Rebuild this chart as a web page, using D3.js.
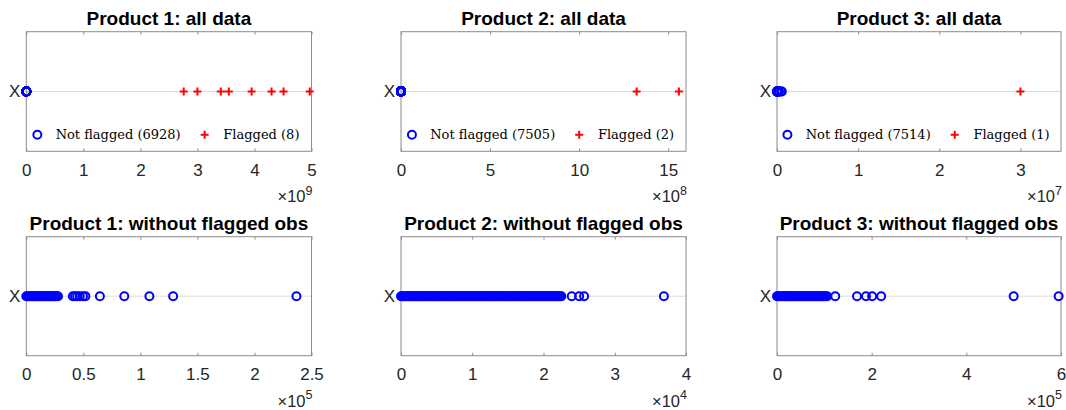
<!DOCTYPE html>
<html>
<head>
<meta charset="utf-8">
<script src="https://cdn.jsdelivr.net/npm/d3@7"></script>
<style>
  html, body { margin: 0; padding: 0; background: #fff; }
  svg { display: block; }
</style>
</head>
<body>
<svg id="chart" width="1066" height="410"></svg>
<script>
// ---- data ----
const productNames = ["Product 1", "Product 2", "Product 3"];

// observations that were not flagged (same values feed both rows)
const notFlagged1 = [0, 1050, 2100, 3150, 4300, 5350, 6400, 7450, 8500, 9600, 10700, 11750, 12800, 13850,
  14900, 16000, 17100, 18150, 19200, 20250, 21300, 22400, 23500, 24550, 25600, 26700, 27800,
  40800, 42700, 44600, 46900, 49700, 51800, 64500, 85900, 107900, 128700, 236800];
const notFlagged2 = [0, 150, 310, 480, 640, 810, 990, 1150, 1320, 1500, 1680, 1840, 2010, 2180, 2350, 2520,
  2700, 2870, 3040, 3210, 3380, 3550, 3720, 3890, 4060, 4230, 4410, 4580, 4750, 4920, 5090, 5260, 5430,
  5600, 5780, 5950, 6120, 6290, 6460, 6630, 6800, 6970, 7150, 7320, 7490, 7660, 7830, 8000, 8170, 8340,
  8520, 8690, 8860, 9030, 9200, 9370, 9540, 9710, 9890, 10060, 10230, 10400, 10570, 10740, 10910, 11080,
  11260, 11430, 11600, 11770, 11940, 12110, 12280, 12450, 12630, 12800, 12970, 13140, 13310, 13480,
  13650, 13820, 14000, 14170, 14340, 14510, 14680, 14850, 15020, 15190, 15370, 15540, 15710, 15880,
  16050, 16220, 16390, 16560, 16740, 16910, 17080, 17250, 17420, 17590, 17760, 17930, 18110, 18280,
  18450, 18620, 18790, 18960, 19130, 19300, 19480, 19650, 19820, 19990, 20160, 20330, 20500, 20670,
  20850, 21020, 21190, 21360, 21530, 21700, 21870, 22040, 22220, 22360, 22500,
  23960, 25000, 25700, 36900];
const notFlagged3 = [0, 2600, 5200, 7850, 10500, 13100, 15700, 18350, 21000, 23600, 26200, 28850, 31500,
  34100, 36700, 39350, 42000, 44600, 47200, 49850, 52500, 55100, 57700, 60350, 63000, 65600, 68200,
  70850, 73500, 76100, 78700, 81350, 84000, 86600, 89200, 91850, 94500, 97100, 99700, 102800, 105900,
  123000, 169000, 188000, 201000, 220000, 500000, 595000];

// flagged observations
const flagged1 = [2.76e9, 3.00e9, 3.41e9, 3.55e9, 3.95e9, 4.30e9, 4.51e9, 4.97e9];
const flagged2 = [13.23e8, 15.6e8];
const flagged3 = [3.0e7];

const notFlaggedCounts = [6928, 7505, 7514];
const flaggedCounts = [8, 2, 1];

// axis limits, tick labels and exponents
const allDataMax = [5e9, 16e8, 3.5e7];
const allDataTicks = [[0, 1, 2, 3, 4, 5], [0, 5, 10, 15], [0, 1, 2, 3]];
const allDataExp = [9, 8, 7];
const cleanMax = [2.5e5, 4e4, 6e5];
const cleanTicks = [[0, 0.5, 1, 1.5, 2, 2.5], [0, 1, 2, 3, 4], [0, 2, 4, 6]];
const cleanExp = [5, 4, 5];

const notFlagged = [notFlagged1, notFlagged2, notFlagged3];
const flagged = [flagged1, flagged2, flagged3];

// ---- layout ----
const colX = [[26.3, 311.5], [401, 686], [777, 1061]];
const rowY = [[31.7, 151.3], [236.7, 355.7]];
const boxColor = "#8c8c8c";
const textColor = "#262626";
const sansFont = "'Liberation Sans', Arial, sans-serif";
const serifFont = "'DejaVu Serif', serif";

const svg = d3.select("#chart");

function drawPanel(col, row, title, xmax, ticks, expo, blue, red, legend) {
  const [x0, x1] = colX[col];
  const [y0, y1] = rowY[row];
  const g = svg.append("g");
  const x = d3.scaleLinear().domain([0, xmax]).range([x0, x1]);
  const y = d3.scalePoint().domain(["X"]).range([y0, y1]).padding(0.5);
  const yc = y("X");
  const scale = Math.pow(10, expo);

  // horizontal grid line at the single category
  g.append("line")
    .attr("x1", x0).attr("x2", x1).attr("y1", yc).attr("y2", yc)
    .attr("stroke", "#dcdcdc").attr("stroke-width", 1);

  // bottom axis with inward ticks
  const axB = d3.axisBottom(x)
    .tickValues(ticks.map(t => t * scale))
    .tickFormat(d => d3.format("~g")(+(d / scale).toFixed(6)))
    .tickSize(-3).tickPadding(12.5);
  const gb = g.append("g").attr("transform", `translate(0,${y1})`).call(axB);
  gb.select(".domain").remove();
  gb.selectAll(".tick line").attr("stroke", boxColor);
  gb.selectAll(".tick text")
    .attr("fill", textColor).style("font-family", sansFont).style("font-size", "17px");

  // top axis ticks (no labels)
  const axT = d3.axisTop(x).tickValues(ticks.map(t => t * scale)).tickSize(-3).tickFormat("");
  const gt = g.append("g").attr("transform", `translate(0,${y0})`).call(axT);
  gt.select(".domain").remove();
  gt.selectAll(".tick line").attr("stroke", boxColor);

  // left axis label "X"
  const axL = d3.axisLeft(y).tickSize(-3).tickPadding(6);
  const gl = g.append("g").attr("transform", `translate(${x0},0)`).call(axL);
  gl.select(".domain").remove();
  gl.selectAll(".tick line").attr("stroke", boxColor);
  gl.selectAll(".tick text")
    .attr("fill", textColor).style("font-family", sansFont).style("font-size", "17px");

  // axes box
  g.append("rect")
    .attr("x", x0).attr("y", y0).attr("width", x1 - x0).attr("height", y1 - y0)
    .attr("fill", "none").attr("stroke", boxColor).attr("stroke-width", 1);

  // exponent label
  const ex = g.append("text")
    .attr("x", x1 + 1).attr("y", y1 + 51)
    .attr("text-anchor", "end").attr("fill", textColor)
    .style("font-family", sansFont).style("font-size", "16.5px");
  ex.append("tspan").text("\u00d710");
  ex.append("tspan").attr("dy", -7.5).style("font-size", "12.5px").text(expo);

  // title
  g.append("text")
    .attr("x", (x0 + x1) / 2).attr("y", y0 - 7)
    .attr("text-anchor", "middle").attr("fill", "#000")
    .style("font-family", sansFont).style("font-size", "19px").style("font-weight", "bold")
    .text(title);

  // not flagged observations
  g.append("g").selectAll("circle").data(blue).join("circle")
    .attr("cx", d => x(d)).attr("cy", yc).attr("r", 4)
    .attr("fill", "none").attr("stroke", "#0000ff").attr("stroke-width", 2);

  // flagged observations
  if (red) {
    g.append("g").selectAll("path").data(red).join("path")
      .attr("transform", d => `translate(${x(d)},${yc})`)
      .attr("d", "M-4,0H4M0,-4V4")
      .attr("stroke", "#ff0000").attr("stroke-width", 2).attr("fill", "none");
  }

  // legend along the bottom of the panel
  if (legend) {
    const ly = y1 - 16.5;
    const lg = g.append("g");
    const mkText = s => lg.append("text").attr("y", ly + 4.5).attr("fill", "#000")
      .style("font-family", serifFont).style("font-size", "13px").text(s);
    const t1 = mkText(legend[0]);
    const t2 = mkText(legend[1]);
    const l1 = t1.node().getComputedTextLength();
    const l2 = t2.node().getComputedTextLength();
    const width = 66 + l1 + l2;
    const s = (x0 + x1) / 2 - 3 - width / 2 + 5;
    const m1 = s, tx1 = s + 18.3, m2 = tx1 + l1 + 24, tx2 = m2 + 18.7;
    t1.attr("x", tx1);
    t2.attr("x", tx2);
    lg.append("circle").attr("cx", m1).attr("cy", ly).attr("r", 4)
      .attr("fill", "none").attr("stroke", "#0000ff").attr("stroke-width", 2);
    lg.append("path").attr("transform", `translate(${m2},${ly})`)
      .attr("d", "M-4,0H4M0,-4V4")
      .attr("stroke", "#ff0000").attr("stroke-width", 2).attr("fill", "none");
  }
}

productNames.forEach((name, i) => {
  drawPanel(i, 0, `${name}: all data`, allDataMax[i], allDataTicks[i], allDataExp[i],
    notFlagged[i], flagged[i],
    [`Not flagged (${notFlaggedCounts[i]})`, `Flagged (${flaggedCounts[i]})`]);
  drawPanel(i, 1, `${name}: without flagged obs`, cleanMax[i], cleanTicks[i], cleanExp[i],
    notFlagged[i], null, null);
});
</script>
</body>
</html>
